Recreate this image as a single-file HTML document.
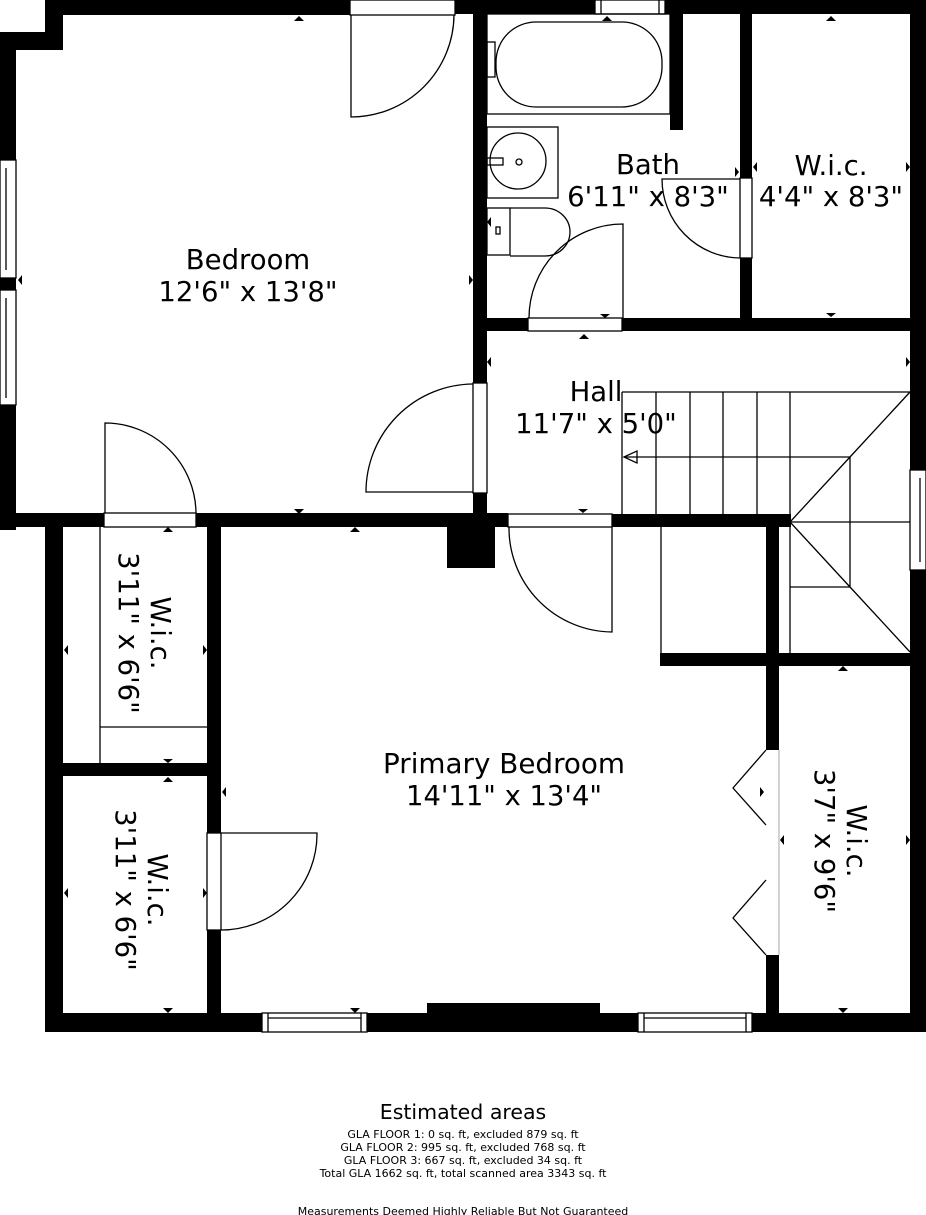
<!DOCTYPE html>
<html><head><meta charset="utf-8"><style>
html,body{margin:0;padding:0;background:#fff;}
svg{display:block;}
text{font-family:"DejaVu Sans","Liberation Sans",sans-serif;fill:#000;}
</style></head><body>
<svg width="926" height="1215" viewBox="0 0 926 1215" xmlns="http://www.w3.org/2000/svg">
<rect width="926" height="1215" fill="#fff"/>
<g fill="#000">
<rect x="45" y="0" width="305" height="15"/>
<rect x="455" y="0" width="140" height="14"/>
<rect x="665" y="0" width="261" height="14"/>
<rect x="45" y="0" width="18" height="50"/>
<rect x="0" y="32" width="63" height="18"/>
<rect x="0" y="32" width="16" height="128"/>
<rect x="0" y="278" width="16" height="12"/>
<rect x="0" y="405" width="16" height="125"/>
<rect x="473" y="0" width="14" height="383"/>
<rect x="473" y="493" width="14" height="34"/>
<rect x="0" y="513" width="104" height="14"/>
<rect x="196" y="513" width="312" height="14"/>
<rect x="612" y="514" width="179" height="13"/>
<rect x="447" y="513" width="48" height="55"/>
<rect x="670" y="13" width="13" height="117"/>
<rect x="740" y="0" width="12" height="178"/>
<rect x="740" y="258" width="12" height="70"/>
<rect x="473" y="318" width="55" height="13"/>
<rect x="622" y="318" width="304" height="13"/>
<rect x="910" y="0" width="16" height="470"/>
<rect x="910" y="570" width="16" height="462"/>
<rect x="766" y="514" width="13" height="236"/>
<rect x="766" y="955" width="13" height="75"/>
<rect x="660" y="653" width="266" height="13"/>
<rect x="45" y="527" width="18" height="505"/>
<rect x="207" y="527" width="14" height="306"/>
<rect x="207" y="930" width="14" height="100"/>
<rect x="45" y="763" width="176" height="13"/>
<rect x="45" y="1013" width="217" height="19"/>
<rect x="367" y="1013" width="271" height="19"/>
<rect x="752" y="1013" width="174" height="19"/>
<rect x="427" y="1003" width="173" height="12"/>
</g>
<g fill="none" stroke="#000" stroke-width="1.3">
<rect x="350" y="0" width="105" height="15"/>
<rect x="595" y="0" width="70" height="14"/><line x1="601" y1="0" x2="601" y2="14"/><line x1="659" y1="0" x2="659" y2="14"/>
<rect x="0" y="160" width="16" height="118"/><line x1="6" y1="168" x2="6" y2="270"/><rect x="0" y="290" width="16" height="115"/><line x1="6" y1="298" x2="6" y2="398"/>
<rect x="473" y="383" width="14" height="110"/>
<rect x="104" y="513" width="92" height="14"/>
<rect x="508" y="514" width="104" height="13"/>
<rect x="528" y="318" width="94" height="13"/>
<rect x="740" y="178" width="12" height="80"/>
<rect x="910" y="470" width="16" height="100"/><line x1="920" y1="478" x2="920" y2="562"/>
<rect x="207" y="833" width="14" height="97"/>
<rect x="262" y="1013" width="105" height="19"/><line x1="268" y1="1018" x2="361" y2="1018"/><line x1="268" y1="1013" x2="268" y2="1032"/><line x1="361" y1="1013" x2="361" y2="1032"/>
<rect x="638" y="1013" width="114" height="19"/><line x1="644" y1="1018" x2="746" y2="1018"/><line x1="644" y1="1013" x2="644" y2="1032"/><line x1="746" y1="1013" x2="746" y2="1032"/>
<path d="M351 15 V117 A103 103 0 0 0 454 15"/>
<path d="M473 384 A108 108 0 0 0 366 492 H473"/>
<path d="M105 513 V423 A91 91 0 0 1 196 513"/>
<path d="M509 527 A104 104 0 0 0 612 632 V527"/>
<path d="M529 318 A94 94 0 0 1 623 224 V318"/>
<path d="M740 258 A79 79 0 0 1 662 179 H740"/>
<path d="M221 833 H317 A96 96 0 0 1 221 930"/>
<path d="M766 750 L733 788 L766 825"/>
<path d="M766 880 L733 918 L766 955"/>
<line x1="779" y1="750" x2="779" y2="955" stroke="#bbb"/>
<rect x="487" y="14" width="183" height="100"/>
<rect x="496" y="22" width="166" height="85" rx="40" ry="40"/>
<rect x="487" y="127" width="71" height="71"/>
<ellipse cx="518" cy="161" rx="28" ry="28"/>
<circle cx="519" cy="162" r="3"/>
<rect x="487" y="158" width="16" height="7"/>
<rect x="487" y="208" width="23" height="47"/>
<path d="M510 208 H545 A25 24 0 0 1 545 256 H510"/>
<rect x="496" y="227" width="4" height="7"/>
<rect x="487" y="42" width="8" height="35"/>
<line x1="100" y1="527" x2="100" y2="763"/>
<line x1="100" y1="727" x2="207" y2="727"/>
<line x1="622" y1="392" x2="910" y2="392"/>
<line x1="622" y1="392" x2="622" y2="514"/>
<line x1="656" y1="392" x2="656" y2="514"/>
<line x1="690" y1="392" x2="690" y2="514"/>
<line x1="723" y1="392" x2="723" y2="514"/>
<line x1="757" y1="392" x2="757" y2="514"/>
<line x1="790" y1="392" x2="790" y2="653"/>
<line x1="624" y1="457" x2="850" y2="457"/>
<path d="M624 457 L637 451 L637 463 Z"/>
<path d="M910 392 L850 457 L790 522 L850 587 L910 652"/>
<line x1="850" y1="457" x2="850" y2="587"/>
<line x1="790" y1="522" x2="910" y2="522"/>
<line x1="790" y1="587" x2="850" y2="587"/>
<line x1="661" y1="527" x2="661" y2="653"/>
</g>
<g fill="#000">
<path d="M294 21 l5 -5 l5 5z"/><path d="M294 509 l5 5 l5 -5z"/>
<path d="M22 275 l-4 5 l4 5z"/><path d="M469 275 l4 5 l-4 5z"/>
<path d="M602 21 l5 -5 l5 5z"/><path d="M600 314 l5 4 l5 -4z"/>
<path d="M826 21 l5 -5 l5 5z"/><path d="M826 313 l5 4 l5 -4z"/>
<path d="M757 162 l-4 5 l4 5z"/><path d="M906 162 l4 5 l-4 5z"/>
<path d="M735 167 l4 5 l-4 5z"/>
<path d="M579 339 l5 -5 l5 5z"/><path d="M578 509 l5 4 l5 -4z"/>
<path d="M491 357 l-4 5 l4 5z"/><path d="M906 357 l4 5 l-4 5z"/>
<path d="M491 217 l-4 5 l4 5z"/>
<path d="M350 532 l5 -5 l5 5z"/><path d="M350 1008 l5 5 l5 -5z"/>
<path d="M226 787 l-4 5 l4 5z"/><path d="M760 787 l4 5 l-4 5z"/>
<path d="M163 532 l5 -5 l5 5z"/><path d="M163 759 l5 4 l5 -4z"/>
<path d="M163 782 l5 -5 l5 5z"/><path d="M163 1008 l5 5 l5 -5z"/>
<path d="M68 645 l-4 5 l4 5z"/><path d="M203 645 l4 5 l-4 5z"/>
<path d="M68 888 l-4 5 l4 5z"/><path d="M203 888 l4 5 l-4 5z"/>
<path d="M784 835 l-4 5 l4 5z"/><path d="M906 835 l4 5 l-4 5z"/>
<path d="M838 671 l5 -5 l5 5z"/><path d="M838 1008 l5 5 l5 -5z"/>
</g>
<g font-size="27.5" text-anchor="middle">
<text x="248" y="269">Bedroom</text>
<text x="248" y="301">12'6" x 13'8"</text>
<text x="648" y="174">Bath</text>
<text x="648" y="206">6'11" x 8'3"</text>
<text x="831" y="175">W.i.c.</text>
<text x="831" y="206">4'4" x 8'3"</text>
<text x="596" y="401">Hall</text>
<text x="596" y="433">11'7" x 5'0"</text>
<text x="504" y="773" textLength="242" lengthAdjust="spacingAndGlyphs">Primary Bedroom</text>
<text x="504" y="805" textLength="196" lengthAdjust="spacingAndGlyphs">14'11" x 13'4"</text>
<g transform="translate(151,633) rotate(90)"><text x="0" y="0">W.i.c.</text><text x="0" y="32">3'11" x 6'6"</text></g>
<g transform="translate(148,890) rotate(90)"><text x="0" y="0">W.i.c.</text><text x="0" y="32">3'11" x 6'6"</text></g>
<g transform="translate(847,841) rotate(90)"><text x="0" y="0">W.i.c.</text><text x="0" y="32">3'7" x 9'6"</text></g>
</g>
<g text-anchor="middle">
<text x="463" y="1119" font-size="20.5">Estimated areas</text>
<text x="463" y="1138" font-size="11">GLA FLOOR 1: 0 sq. ft, excluded 879 sq. ft</text>
<text x="463" y="1151" font-size="11">GLA FLOOR 2: 995 sq. ft, excluded 768 sq. ft</text>
<text x="463" y="1164" font-size="11">GLA FLOOR 3: 667 sq. ft, excluded 34 sq. ft</text>
<text x="463" y="1177" font-size="11">Total GLA 1662 sq. ft, total scanned area 3343 sq. ft</text>
<text x="463" y="1215" font-size="11">Measurements Deemed Highly Reliable But Not Guaranteed</text>
</g>
</svg>
</body></html>
